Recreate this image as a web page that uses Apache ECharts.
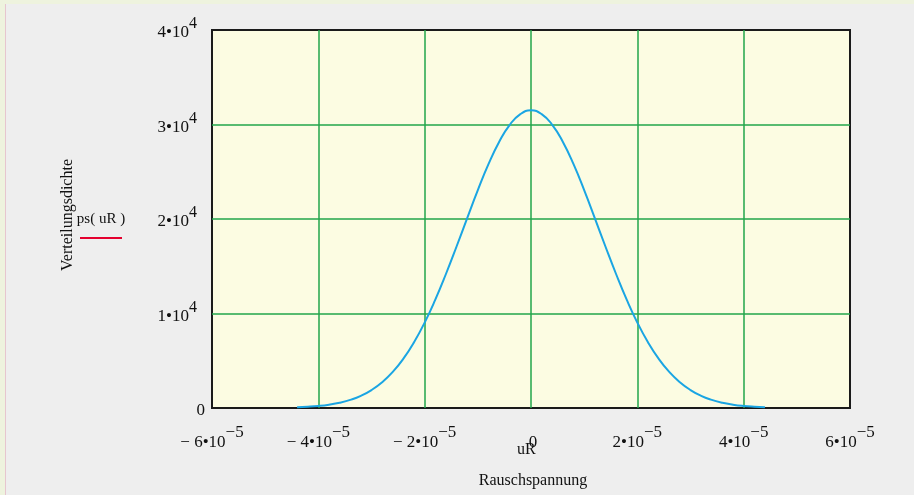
<!DOCTYPE html>
<html><head><meta charset="utf-8">
<script src="https://cdn.jsdelivr.net/npm/echarts@6/dist/echarts.min.js"></script>
<style>
html,body{margin:0;padding:0;background:#eef3de;}
#c{position:absolute;left:0;top:0;width:914px;height:495px;}
#f{position:absolute;left:5px;top:4px;width:909px;height:491px;background:#eeeeee;border-left:1px solid #e6c6cf;}
</style></head>
<body><div id="f"></div><div id="c"></div>
<script>
// Rauschspannung uR (V)
const uR = [-4.4e-5,-4.2e-5,-4.0e-5,-3.8e-5,-3.6e-5,-3.4e-5,-3.2e-5,-3.0e-5,-2.8e-5,-2.6e-5,-2.4e-5,-2.2e-5,-2.0e-5,-1.8e-5,-1.6e-5,-1.4e-5,-1.2e-5,-1.0e-5,-0.8e-5,-0.6e-5,-0.4e-5,-0.2e-5,0,
  0.2e-5,0.4e-5,0.6e-5,0.8e-5,1.0e-5,1.2e-5,1.4e-5,1.6e-5,1.8e-5,2.0e-5,2.2e-5,2.4e-5,2.6e-5,2.8e-5,3.0e-5,3.2e-5,3.4e-5,3.6e-5,3.8e-5,4.0e-5,4.2e-5,4.4e-5];
// Verteilungsdichte ps(uR)
const ps = [75,130,215,350,550,860,1290,1900,2730,3820,5220,6960,9040,11470,14180,17090,20100,23060,25800,28150,29970,31100,31500,
  31100,29970,28150,25800,23060,20100,17090,14180,11470,9040,6960,5220,3820,2730,1900,1290,860,550,350,215,130,75];
const xTicks = {min:-6e-5, max:6e-5, step:2e-5};
const yTicks = {min:0, max:4e4, step:1e4};

const serif = '"Liberation Serif","DejaVu Serif",serif';
const chart = echarts.init(document.getElementById('c'));
chart.setOption({
  animation:false,
  backgroundColor:'transparent',
  grid:{left:212,right:64,top:30,bottom:87,show:true,backgroundColor:'#fcfce2',borderColor:'#1a1a1a',borderWidth:2},
  xAxis:{type:'value',min:xTicks.min,max:xTicks.max,interval:xTicks.step,
    axisLine:{show:false},axisTick:{show:false},
    splitLine:{show:true,showMinLine:false,showMaxLine:false,lineStyle:{color:'#22a64a',width:1.5}},
    axisLabel:{margin:16,color:'#111',fontFamily:serif,
      formatter:v=>{const k=Math.round(v*1e5); if(k===0) return '{z|0}{s| }'; return '{b|'+(k<0?'\u2212 ':'')+Math.abs(k)+'\u202210}{s|\u22125}';},
      rich:{b:{fontSize:17,fontFamily:serif,color:'#111'},z:{fontSize:17,fontFamily:serif,color:'#111',padding:[0,0,0,8]},s:{fontSize:17,fontFamily:serif,color:'#111',padding:[0,0,20,0]}}}},
  yAxis:{type:'value',min:yTicks.min,max:yTicks.max,interval:yTicks.step,
    axisLine:{show:false},axisTick:{show:false},
    splitLine:{show:true,showMinLine:false,showMaxLine:false,lineStyle:{color:'#22a64a',width:1.5}},
    axisLabel:{margin:7,color:'#111',fontFamily:serif,
      formatter:v=>{const k=Math.round(v/1e4); if(k===0) return '{b|0}'; return '{b|'+k+'\u202210}{s|4}';},
      rich:{b:{fontSize:17,fontFamily:serif,color:'#111',padding:[6,0,0,0]},s:{fontSize:16,fontFamily:serif,color:'#111',padding:[0,8,12,0]}}}},
  series:[{type:'line',data:uR.map((x,i)=>[x,ps[i]]),smooth:true,showSymbol:false,
    lineStyle:{color:'#1aa5e3',width:2},z:5}],
  graphic:[
    {type:'text',left:517,top:442,style:{text:'uR',font:'16px '+serif,fill:'#111'}},
    {type:'text',x:533,y:481,style:{text:'Rauschspannung',font:'16px '+serif,fill:'#111',align:'center',verticalAlign:'middle'}},
    {type:'text',x:68,y:215,rotation:Math.PI/2,style:{text:'Verteilungsdichte',font:'16px '+serif,fill:'#111',align:'center',verticalAlign:'middle'}},
    {type:'text',x:101,y:219,style:{text:'ps( uR )',font:'15px '+serif,fill:'#111',align:'center',verticalAlign:'middle'}},
    {type:'line',shape:{x1:80,y1:238,x2:122,y2:238},style:{stroke:'#e4002e',lineWidth:2}}
  ]
});
</script></body></html>
